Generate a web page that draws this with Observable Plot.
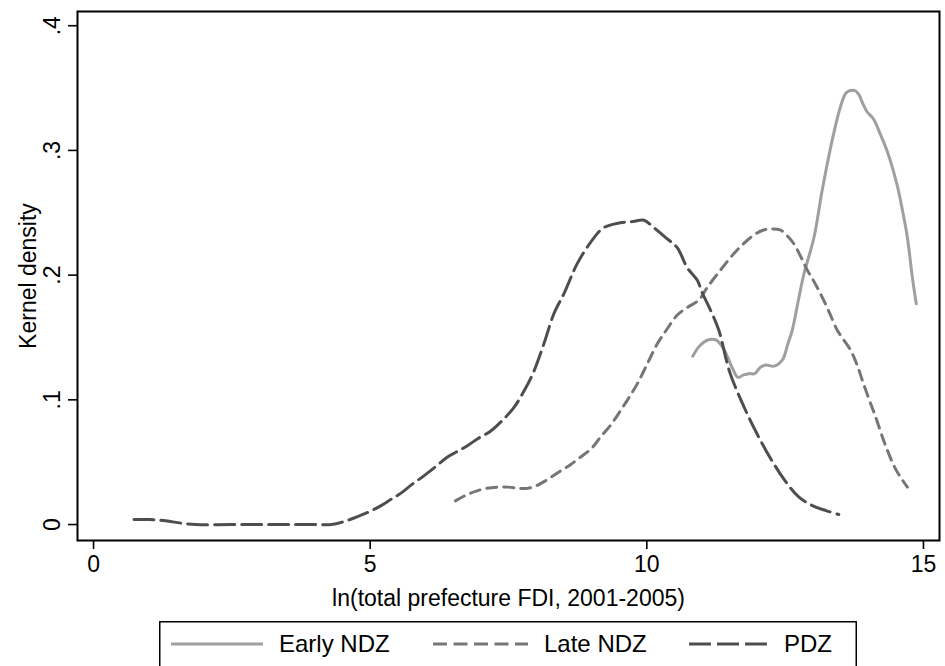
<!DOCTYPE html>
<html>
<head>
<meta charset="utf-8">
<script src="https://cdn.jsdelivr.net/npm/d3@7"></script>
<script src="https://cdn.jsdelivr.net/npm/@observablehq/plot@0.6"></script>
<style>
  html, body { margin: 0; padding: 0; background: #fff; }
  #wrap { position: relative; width: 945px; height: 666px; overflow: hidden; font-family: "Liberation Sans", Arial, Helvetica, sans-serif; }
  #chart svg { overflow: visible; }
  #legend { position: absolute; left: 159px; top: 621px; }
</style>
</head>
<body>
<div id="wrap"><div id="chart"></div><div id="legend"></div></div>
<script>
// ---- data ----
const seriesNames = ["Early NDZ", "Late NDZ", "PDZ"];
const seriesColors = ["#9f9f9f", "#767676", "#4e4e4e"];
const seriesDash = [null, "10,7", "20,7"];

const earlyNDZ = [[10.83,.135],[10.95,.143],[11.1,.148],[11.25,.148],[11.4,.140],[11.55,.125],[11.65,.118],[11.75,.120],[11.85,.121],[11.95,.121],[12.05,.126],[12.15,.128],[12.3,.127],[12.45,.132],[12.55,.145],[12.63,.156],[12.74,.180],[12.84,.201],[13.02,.230],[13.17,.268],[13.35,.308],[13.5,.335],[13.6,.346],[13.68,.348],[13.76,.348],[13.83,.345],[13.9,.338],[13.98,.331],[14.1,.325],[14.22,.313],[14.34,.300],[14.52,.273],[14.62,.252],[14.71,.230],[14.8,.198],[14.87,.177]];

const lateNDZ = [[6.54,.019],[6.75,.024],[6.93,.027],[7.1,.029],[7.3,.030],[7.5,.030],[7.7,.029],[7.84,.029],[8.0,.031],[8.2,.036],[8.44,.043],[8.62,.048],[8.8,.054],[9.0,.061],[9.16,.070],[9.35,.080],[9.52,.091],[9.68,.102],[9.83,.113],[10.01,.129],[10.19,.145],[10.37,.157],[10.55,.168],[10.73,.174],[10.94,.180],[11.09,.190],[11.33,.204],[11.63,.220],[11.93,.232],[12.1,.236],[12.24,.237],[12.42,.236],[12.55,.231],[12.66,.225],[12.78,.215],[12.9,.204],[13.02,.195],[13.14,.185],[13.29,.171],[13.44,.156],[13.56,.148],[13.68,.140],[13.8,.128],[13.9,.115],[14.02,.100],[14.13,.087],[14.3,.065],[14.49,.045],[14.6,.037],[14.71,.030]];

const pdz = [[0.73,.004],[1.0,.004],[1.3,.003],[1.6,.001],[1.85,0],[2.5,0],[3.0,0],[3.5,0],[4.0,0],[4.3,0],[4.5,.002],[4.75,.006],[4.97,.010],[5.19,.015],[5.37,.020],[5.55,.025],[5.75,.032],[5.97,.039],[6.2,.047],[6.39,.054],[6.55,.058],[6.75,.063],[6.95,.069],[7.18,.075],[7.4,.084],[7.6,.094],[7.78,.107],[7.96,.123],[8.14,.145],[8.32,.169],[8.5,.185],[8.74,.209],[8.98,.226],[9.22,.238],[9.52,.242],[9.75,.243],[9.95,.244],[10.13,.238],[10.37,.229],[10.55,.222],[10.73,.206],[10.91,.196],[11.0,.186],[11.15,.172],[11.3,.156],[11.5,.122],[11.75,.095],[12.0,.072],[12.25,.052],[12.5,.035],[12.75,.022],[13.0,.015],[13.25,.011],[13.47,.008]];

const xTicks = [0, 5, 10, 15];
const yTicks = [0, 0.1, 0.2, 0.3, 0.4];
const xLabel = "ln(total prefecture FDI, 2001-2005)";
const yLabel = "Kernel density";

// ---- chart ----
const seriesData = [earlyNDZ, lateNDZ, pdz];
const fmtY = d => d === 0 ? "0" : String(+d.toFixed(1)).replace(/^0/, "");
const FONT = '"Liberation Sans", Arial, Helvetica, sans-serif';

const lineMarks = seriesData.map((arr, i) => Plot.line(arr, {
  x: d => d[0], y: d => d[1],
  stroke: seriesColors[i], strokeWidth: 3,
  strokeDasharray: seriesDash[i] || undefined,
  curve: "catmull-rom"
}));

const chart = Plot.plot({
  width: 945,
  height: 618,
  marginLeft: 77,
  marginRight: 6,
  marginTop: 11,
  marginBottom: 78,
  style: { fontFamily: FONT, fontSize: "23px", color: "black", background: "white" },
  x: { domain: [-0.29, 15.29] },
  y: { domain: [-0.0128, 0.4114] },
  marks: [
    ...lineMarks,
    Plot.axisX({ ticks: xTicks, tickSize: 9, tickPadding: 6, strokeWidth: 1.6, label: xLabel, labelAnchor: "center", labelOffset: 65, labelArrow: "none" }),
    Plot.axisY({ ticks: yTicks, tickSize: 9, tickPadding: 9, strokeWidth: 1.6, tickRotate: -90, tickFormat: fmtY, label: yLabel, labelAnchor: "center", labelOffset: 58, labelArrow: "none" }),
    Plot.frame({ stroke: "black", strokeWidth: 2 })
  ]
});
document.getElementById("chart").appendChild(chart);

// ---- legend ----
const lw = 698, lh = 46;
const legendPos = [
  { line: [12, 104], text: 120 },
  { line: [274, 369], text: 385 },
  { line: [530, 608], text: 625 }
];
const lsvg = d3.select("#legend").append("svg").attr("width", lw).attr("height", lh)
  .style("font-family", FONT).style("font-size", "24px");
lsvg.append("rect").attr("x", 0.75).attr("y", 0.75).attr("width", lw - 1.5).attr("height", lh + 4)
  .attr("fill", "white").attr("stroke", "black").attr("stroke-width", 1.5);
seriesNames.forEach((name, i) => {
  const p = legendPos[i];
  lsvg.append("line").attr("x1", p.line[0]).attr("x2", p.line[1]).attr("y1", 23).attr("y2", 23)
    .attr("stroke", seriesColors[i]).attr("stroke-width", 3)
    .attr("stroke-dasharray", i === 1 ? "14,6.5" : i === 2 ? "22,6" : null);
  lsvg.append("text").attr("x", p.text).attr("y", 23).attr("dy", "0.35em").attr("fill", "black").text(name);
});
</script>
</body>
</html>
